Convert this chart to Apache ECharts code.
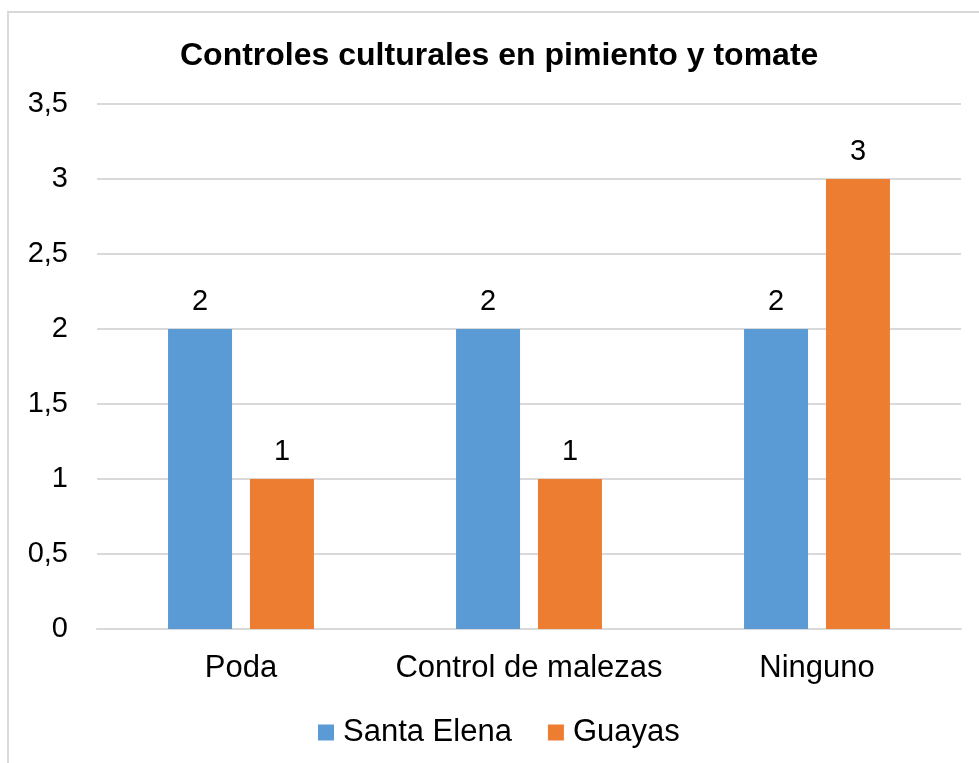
<!DOCTYPE html>
<html>
<head>
<meta charset="utf-8">
<style>
  html, body { margin: 0; padding: 0; background: #ffffff; }
  #chart { width: 979px; height: 763px; }
</style>
<script src="https://cdn.jsdelivr.net/npm/echarts@6/dist/echarts.min.js"></script>
</head>
<body>
<div id="chart"></div>
<script>
// Data
const categories = ['Poda', 'Control de malezas', 'Ninguno'];
const santaElena = [2, 2, 2];
const guayas = [1, 1, 3];
const seriesNames = ['Santa Elena', 'Guayas'];
const titleText = 'Controles culturales en pimiento y tomate';

const FONT = '"Liberation Sans", Arial, sans-serif';
const chart = echarts.init(document.getElementById('chart'));

const valueLabel = {
  show: true,
  position: 'top',
  distance: 13,
  color: '#000',
  fontFamily: FONT,
  fontSize: 29
};

chart.setOption({
  backgroundColor: '#ffffff',
  animation: false,
  graphic: [{
    type: 'rect',
    shape: { x: 8, y: 12, width: 1100, height: 900 },
    style: { fill: 'none', stroke: '#d9d9d9', lineWidth: 2 },
    silent: true,
    z: -1
  }],
  title: {
    text: titleText,
    left: 175,
    top: 35,
    textStyle: { fontFamily: FONT, fontSize: 32, fontWeight: 'bold', color: '#000' }
  },
  legend: {
    data: seriesNames,
    left: 313,
    top: 712,
    itemWidth: 16,
    itemHeight: 16,
    itemGap: 36,
    icon: 'rect',
    textStyle: { fontFamily: FONT, fontSize: 31, color: '#000', padding: [0, 0, 0, 4] }
  },
  grid: { left: 97, right: 18, top: 104, bottom: 134, containLabel: false },
  xAxis: {
    type: 'category',
    data: categories,
    axisLine: { lineStyle: { color: '#d9d9d9', width: 2 } },
    axisTick: { show: false },
    axisLabel: { fontFamily: FONT, fontSize: 31, color: '#000', margin: 24, interval: 0 }
  },
  yAxis: {
    type: 'value',
    min: 0,
    max: 3.5,
    interval: 0.5,
    axisLine: { show: false },
    axisTick: { show: false },
    splitLine: { lineStyle: { color: '#d9d9d9', width: 2 } },
    axisLabel: {
      fontFamily: FONT,
      fontSize: 29,
      color: '#000',
      margin: 29,
      formatter: v => String(v).replace('.', ',')
    }
  },
  series: [
    {
      name: seriesNames[0],
      type: 'bar',
      data: santaElena,
      barWidth: 64,
      barGap: '28%',
      itemStyle: { color: '#5b9bd5' },
      label: valueLabel
    },
    {
      name: seriesNames[1],
      type: 'bar',
      data: guayas,
      barWidth: 64,
      barGap: '28%',
      itemStyle: { color: '#ed7d31' },
      label: valueLabel
    }
  ]
});
</script>
</body>
</html>
